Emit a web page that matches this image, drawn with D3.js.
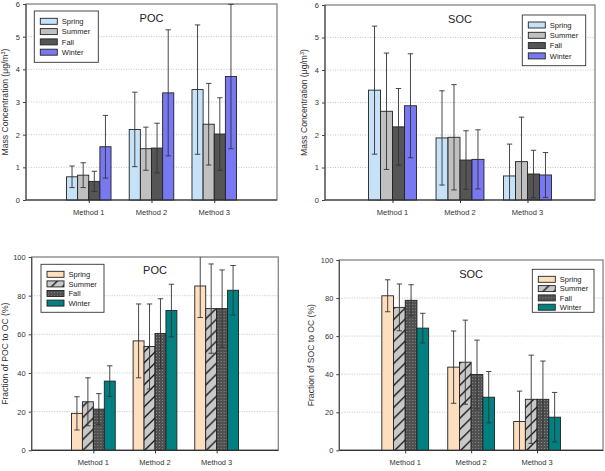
<!DOCTYPE html>
<html>
<head>
<meta charset="utf-8">
<script src="https://cdn.jsdelivr.net/npm/d3@7"></script>
<style>
  html, body { margin: 0; padding: 0; background: #fff; }
  svg { display: block; font-family: "Liberation Sans", Arial, sans-serif; }
</style>
</head>
<body>
<svg id="chart" width="605" height="471"></svg>
<script>
// ---------------- DATA ----------------
const methods = ["Method 1", "Method 2", "Method 3"];
const seasons = ["Spring", "Summer", "Fall", "Winter"];

// Mass concentration (µg/m3), rows = methods, cols = seasons
const pocMass    = [[0.71, 0.76, 0.57, 1.63], [2.16, 1.57, 1.59, 3.28], [3.38, 2.32, 2.02, 3.78]];
const pocMassErr = [[0.33, 0.38, 0.31, 0.96], [1.14, 0.66, 0.76, 1.93], [1.98, 1.25, 1.11, 2.21]];
const socMass    = [[3.38, 2.73, 2.25, 2.90], [1.91, 1.93, 1.23, 1.25], [0.74, 1.18, 0.80, 0.77]];
const socMassErr = [[1.97, 1.79, 1.18, 1.60], [1.45, 1.62, 0.90, 0.91], [0.98, 1.37, 0.73, 0.69]];

// Fraction to OC (%)
const pocFrac    = [[19.1, 25.1, 21.3, 35.8], [56.6, 53.7, 60.4, 72.3], [85.0, 73.3, 73.3, 82.8]];
const pocFracErr = [[8.6, 12.4, 8.0, 7.9], [19.1, 22.0, 18.0, 13.6], [16.3, 23.1, 20.0, 12.8]];
const socFrac    = [[81.2, 75.1, 78.8, 64.2], [43.7, 46.3, 39.8, 27.9], [15.1, 26.8, 26.8, 17.4]];
const socFracErr = [[8.4, 12.3, 8.2, 7.8], [19.0, 22.1, 18.1, 13.5], [16.0, 23.2, 20.1, 13.0]];

const massTicks = [0, 1, 2, 3, 4, 5, 6];
const fracTicks = [0, 20, 40, 60, 80, 100];

// ---------------- STYLE ----------------
const svg = d3.select("#chart");
const defs = svg.append("defs");

// hatch pattern (summer)
const hatch = defs.append("pattern").attr("id", "hatch")
  .attr("patternUnits", "userSpaceOnUse").attr("width", 11).attr("height", 11);
hatch.append("rect").attr("width", 11).attr("height", 11).attr("fill", "#c8c8c8");
hatch.append("path").attr("d", "M-2,13 L13,-2 M-3,3 L3,-3 M8,14 L14,8")
  .attr("stroke", "#1a1a1a").attr("stroke-width", 1.4);

// dot pattern (fall)
const dots = defs.append("pattern").attr("id", "dots")
  .attr("patternUnits", "userSpaceOnUse").attr("width", 3).attr("height", 3);
dots.append("rect").attr("width", 3).attr("height", 3).attr("fill", "#505050");
dots.append("rect").attr("x", 1).attr("y", 1).attr("width", 1).attr("height", 1).attr("fill", "#8a8a8a");

const massFills = ["#c6e2f8", "#c0c0c0", "#555555", "#7878f2"];
const fracFills = ["#fddfbf", "url(#hatch)", "url(#dots)", "#008080"];

const panels = [
  { title: "POC", vals: pocMass, errs: pocMassErr, ticks: massTicks, fills: massFills,
    x0: 26, x1: 277, y0: 4, y1: 200, titleY: 21.5, labelX: 8, labelBase: 215,
    ylabel: "mass", leg: { x: 34.3, y: 11, w: 64, h: 51.3, first: 10.3, step: 10.3 } },
  { title: "SOC", vals: socMass, errs: socMassErr, ticks: massTicks, fills: massFills,
    x0: 325, x1: 595, y0: 5, y1: 200, titleY: 22.7, labelX: 307, labelBase: 214.5,
    ylabel: "mass", leg: { x: 522.3, y: 15, w: 63.4, h: 50.7, first: 10, step: 10.3 } },
  { title: "POC", vals: pocFrac, errs: pocFracErr, ticks: fracTicks, fills: fracFills,
    x0: 31.7, x1: 278.3, y0: 257, y1: 450.3, titleY: 274, labelX: 8, labelBase: 465,
    ylabel: "Fraction of POC to OC (%)", leg: { x: 41, y: 264.3, w: 63, h: 48, first: 10, step: 9.6 } },
  { title: "SOC", vals: socFrac, errs: socFracErr, ticks: fracTicks, fills: fracFills,
    x0: 339.3, x1: 603, y0: 260, y1: 450.3, titleY: 277.7, labelX: 314, labelBase: 465,
    ylabel: "Fraction of SOC to OC (%)", leg: { x: 532.3, y: 269.3, w: 61.7, h: 43, first: 10, step: 9.3 } }
];

panels.forEach(p => {
  const g = svg.append("g");
  const w = p.x1 - p.x0;
  const yMax = p.ticks[p.ticks.length - 1];

  const x = d3.scalePoint().domain(methods).range([p.x0 + w / 4, p.x1 - w / 4]);
  const step = w / 4;
  const x1 = d3.scaleBand().domain(seasons).range([-step * 0.355, step * 0.355]).padding(0);
  const y = d3.scaleLinear().domain([0, yMax]).range([p.y1, p.y0]);

  // gridlines
  g.append("g").selectAll("line").data(p.ticks.slice(1, -1)).join("line")
    .attr("x1", p.x0).attr("x2", p.x1)
    .attr("y1", d => y(d)).attr("y2", d => y(d))
    .attr("stroke", "#b8b8b8").attr("stroke-width", 0.8).attr("stroke-dasharray", "1,1.5");

  // frame
  g.append("rect").attr("x", p.x0).attr("y", p.y0).attr("width", w).attr("height", p.y1 - p.y0)
    .attr("fill", "none").attr("stroke", "#8c8c8c").attr("stroke-width", 1.4);

  // bars
  const groups = g.append("g").selectAll("g").data(methods).join("g")
    .attr("transform", d => `translate(${x(d)},0)`);
  groups.each(function (m, mi) {
    const gg = d3.select(this);
    const rows = seasons.map((s, si) => ({ s, si, v: p.vals[mi][si], e: p.errs[mi][si] }));
    gg.selectAll("rect").data(rows).join("rect")
      .attr("x", d => x1(d.s)).attr("width", x1.bandwidth())
      .attr("y", d => y(d.v)).attr("height", d => y(0) - y(d.v))
      .attr("fill", d => p.fills[d.si]).attr("stroke", "#222").attr("stroke-width", 0.9);
    // error bars
    rows.forEach(d => {
      const cx = x1(d.s) + x1.bandwidth() / 2;
      const hi = d.v + d.e, lo = d.v - d.e;
      const yh = y(Math.min(hi, yMax)), yl = y(Math.max(lo, 0));
      gg.append("line").attr("x1", cx).attr("x2", cx).attr("y1", yh).attr("y2", yl)
        .attr("stroke", "#333").attr("stroke-width", 0.9);
      if (hi <= yMax) gg.append("line").attr("x1", cx - 2.7).attr("x2", cx + 2.7)
        .attr("y1", yh).attr("y2", yh).attr("stroke", "#333").attr("stroke-width", 0.9);
      if (lo >= 0) gg.append("line").attr("x1", cx - 2.7).attr("x2", cx + 2.7)
        .attr("y1", yl).attr("y2", yl).attr("stroke", "#333").attr("stroke-width", 0.9);
    });
  });

  // axes lines (left & bottom darker)
  g.append("line").attr("x1", p.x0).attr("x2", p.x0).attr("y1", p.y0).attr("y2", p.y1)
    .attr("stroke", "#444").attr("stroke-width", 1);
  g.append("line").attr("x1", p.x0).attr("x2", p.x1).attr("y1", p.y1).attr("y2", p.y1)
    .attr("stroke", "#333").attr("stroke-width", 1.2);

  // y axis
  const ya = g.append("g").attr("transform", `translate(${p.x0},0)`)
    .call(d3.axisLeft(y).tickValues(p.ticks).tickSize(3).tickPadding(3).tickFormat(d3.format("d")));
  ya.select(".domain").remove();
  ya.selectAll("line").attr("stroke", "#444");
  ya.selectAll("text").attr("font-size", 7.5).attr("fill", "#333").attr("font-family", "Liberation Sans, Arial, sans-serif");

  // x axis
  const xa = g.append("g").attr("transform", `translate(0,${p.y1})`)
    .call(d3.axisBottom(x).tickSize(3).tickPadding(6));
  xa.select(".domain").remove();
  xa.selectAll("line").attr("stroke", "#333");
  xa.selectAll("text").remove();
  g.append("g").selectAll("text").data(methods).join("text")
    .attr("x", d => x(d)).attr("y", p.labelBase).attr("text-anchor", "middle")
    .attr("font-size", 7.5).attr("fill", "#333").text(d => d);

  // title
  g.append("text").attr("x", (p.x0 + p.x1) / 2).attr("y", p.titleY).attr("text-anchor", "middle")
    .attr("font-size", 11).attr("fill", "#222").text(p.title);

  // y label
  const yl = g.append("text")
    .attr("transform", `translate(${p.labelX},${(p.y0 + p.y1) / 2}) rotate(-90)`)
    .attr("text-anchor", "middle").attr("font-size", 8.6).attr("fill", "#333");
  if (p.ylabel === "mass") {
    yl.append("tspan").text("Mass Concentration (\u03BCg/m");
    yl.append("tspan").attr("font-size", 5.5).attr("dy", -3.5).text("3");
    yl.append("tspan").attr("dy", 3.5).text(")");
  } else {
    yl.text(p.ylabel);
  }

  // legend
  const L = p.leg;
  const lg = g.append("g").attr("transform", `translate(${L.x},${L.y})`);
  lg.append("rect").attr("width", L.w).attr("height", L.h).attr("fill", "#fff")
    .attr("stroke", "#333").attr("stroke-width", 0.9);
  seasons.forEach((s, i) => {
    const cy = L.first + i * L.step;
    lg.append("rect").attr("x", 6).attr("y", cy - 3).attr("width", 17).attr("height", 6)
      .attr("fill", p.fills[i]).attr("stroke", "#222").attr("stroke-width", 0.9);
    lg.append("text").attr("x", 27.5).attr("y", cy + 2.7).attr("font-size", 7.5)
      .attr("fill", "#222").text(s);
  });
});
</script>
</body>
</html>
